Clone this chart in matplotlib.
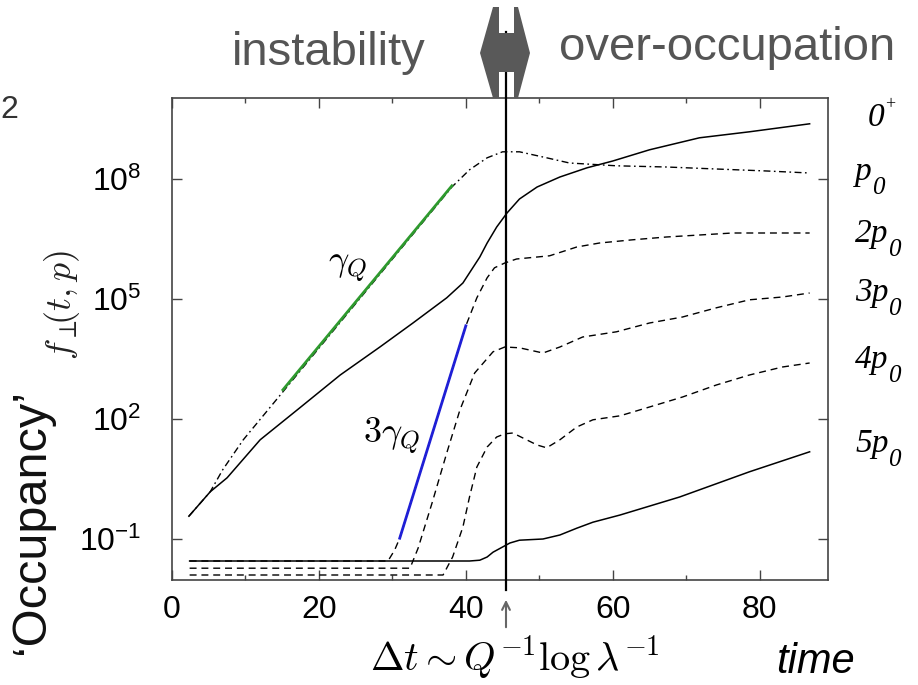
import numpy as np
import matplotlib
matplotlib.use('Agg')
import matplotlib.pyplot as plt
from matplotlib.patches import Polygon, FancyArrowPatch

plt.rcParams['font.family'] = ['Liberation Sans', 'DejaVu Sans']
plt.rcParams['mathtext.fontset'] = 'custom'
plt.rcParams['mathtext.rm'] = 'Liberation Sans'
plt.rcParams['mathtext.it'] = 'Liberation Sans:italic'
plt.rcParams['mathtext.bf'] = 'Liberation Sans:bold'

# temps (t) i log10 de l'ocupacio f per a cada mode
t_0plus = [2.3, 5.2, 7.5, 12.0, 17.4, 22.9, 28.3, 32.8, 37.4, 39.6, 41.9, 42.9,
           44.2, 45.6, 47.3, 49.7, 52.8, 56.5, 60.0, 65.0, 71.8, 78.6, 86.8]
logf_0plus = [-0.43, 0.18, 0.53, 1.48, 2.28, 3.1, 3.8, 4.4, 5.03, 5.4, 6.05, 6.4,
              6.8, 7.15, 7.5, 7.8, 8.05, 8.28, 8.45, 8.73, 9.03, 9.18, 9.38]

t_p0 = [2.3, 5.2, 6.9, 9.7, 15.1, 38.1, 40.5, 42.9, 45.0, 47.3, 51.0, 54.1,
        60.5, 67.3, 74.1, 81.0, 86.8]
logf_p0 = [-0.43, 0.18, 0.73, 1.48, 2.68, 7.8, 8.23, 8.53, 8.68, 8.68, 8.53, 8.4,
           8.33, 8.3, 8.25, 8.2, 8.15]

t_2p0 = [2.4, 29.4, 30.3, 31.0, 40.0, 41.5, 42.9, 43.9, 45.3, 46.9, 51.4, 55.1,
         58.2, 62.7, 67.3, 71.8, 76.3, 86.8]
logf_2p0 = [-1.55, -1.55, -1.28, -0.98, 4.33, 5.03, 5.53, 5.78, 5.9, 6.0, 6.08, 6.3,
            6.4, 6.48, 6.55, 6.6, 6.65, 6.65]

t_3p0 = [2.4, 32.4, 33.5, 35.4, 37.4, 39.2, 41.2, 43.7, 45.3, 47.3, 50.5, 52.8,
         55.9, 60.5, 65.0, 69.5, 74.1, 78.6, 83.1, 86.8]
logf_3p0 = [-1.73, -1.73, -1.23, -0.1, 1.15, 2.23, 3.15, 3.68, 3.8, 3.78, 3.65, 3.8,
            4.05, 4.18, 4.4, 4.55, 4.78, 4.98, 5.05, 5.15]

t_4p0 = [2.4, 36.9, 38.2, 39.6, 40.5, 41.5, 42.9, 44.2, 45.3, 46.4, 49.7, 51.0,
         52.8, 55.1, 57.3, 61.0, 65.0, 69.5, 74.1, 78.6, 83.1, 86.8]
logf_4p0 = [-1.9, -1.9, -1.45, -0.7, 0.05, 0.8, 1.3, 1.55, 1.63, 1.65, 1.35, 1.28,
            1.48, 1.8, 1.98, 2.08, 2.3, 2.55, 2.85, 3.1, 3.3, 3.4]

t_5p0 = [2.4, 40.5, 41.9, 42.9, 43.7, 45.0, 46.0, 47.3, 50.5, 52.8, 55.1, 57.3,
         61.0, 69.1, 78.6, 86.8]
logf_5p0 = [-1.55, -1.55, -1.53, -1.45, -1.33, -1.2, -1.1, -1.03, -1.0, -0.9, -0.73, -0.58,
            -0.4, 0.05, 0.68, 1.18]

# ajustos exponencials (gamma_Q i 3 gamma_Q)
t_fit1 = [15.1, 38.1]
logf_fit1 = [2.73, 7.83]
t_fit3 = [31.0, 40.0]
logf_fit3 = [-0.98, 4.33]

t_switch = 45.4

xticks = [0, 20, 40, 60, 80]
yticks = [1e-1, 1e2, 1e5, 1e8]
ytick_labels = ['$10^{-1}$', '$10^{2}$', '$10^{5}$', '$10^{8}$']

# etiquetes dels modes: (text principal, subindex, superindex)
mode_labels = [('0', None, '+'), ('p', '0', None), ('2p', '0', None),
               ('3p', '0', None), ('4p', '0', None), ('5p', '0', None)]

W, H = 918, 685


def px(x, y):
    # pixel de la imatge -> fraccio de figura
    return (x / W, 1 - y / H)


fig = plt.figure(figsize=(W / 100, H / 100), dpi=100)
ax = fig.add_axes([172 / W, 1 - 580 / H, (828 - 172) / W, (580 - 98) / H])
ax.set_yscale('log')

dash = (0, (5, 3.5))
ax.plot(t_0plus, 10 ** np.array(logf_0plus), color='black', lw=1.1)
ax.plot(t_p0, 10 ** np.array(logf_p0), color='black', lw=1.0, linestyle=(0, (5, 2.5, 1.2, 2.5)))
ax.plot(t_2p0, 10 ** np.array(logf_2p0), color='black', lw=1.0, linestyle=dash)
ax.plot(t_3p0, 10 ** np.array(logf_3p0), color='black', lw=1.0, linestyle=dash)
ax.plot(t_4p0, 10 ** np.array(logf_4p0), color='black', lw=1.0, linestyle=dash)
ax.plot(t_5p0, 10 ** np.array(logf_5p0), color='black', lw=1.1)

ax.plot(t_fit1, 10 ** np.array(logf_fit1), color='#2e9a2e', lw=2.0, zorder=4)
ax.plot(t_fit3, 10 ** np.array(logf_fit3), color='#1f1fd6', lw=2.0, zorder=4)

ax.axvline(t_switch, ymin=-0.021, ymax=1.137, color='black', lw=1.6, clip_on=False, zorder=5)

ax.set_xlim(0, 89.3)
ax.set_ylim(10 ** -2.025, 10 ** 10.025)
ax.set_xticks(xticks)
ax.set_xticks([10, 30, 50, 70], minor=True)
ax.set_yticks(yticks)
ax.set_yticklabels(ytick_labels)
ax.yaxis.set_minor_locator(matplotlib.ticker.NullLocator())
ax.tick_params(which='major', direction='in', length=7, width=1.0, top=True, right=True,
               labelsize=23, color='#444444')
ax.tick_params(which='minor', direction='in', length=3.5, width=1.0, top=True, right=True,
               color='#444444')
ax.tick_params(axis='x', pad=11)
ax.tick_params(axis='y', pad=22)
for s in ax.spines.values():
    s.set_color('#444444')
    s.set_linewidth(1.2)

# etiquetes dins del grafic
fig.text(*px(348, 266), r'$\gamma_Q$', fontsize=26, ha='center', va='center', math_fontfamily='cm')
fig.text(*px(392, 436), r'$3\gamma_Q$', fontsize=26, ha='center', va='center', math_fontfamily='cm')

# etiquetes dels modes a la dreta
serif = ['Liberation Serif', 'DejaVu Serif']
label_pos = [(868, 118), (855, 172), (855, 234), (855, 293), (855, 360), (855, 444)]
for (main, sub, sup), (lx, ly) in zip(mode_labels, label_pos):
    t = fig.text(*px(lx, ly), main, fontsize=24, family=serif, style='italic', ha='left', va='center')
    if sub:
        ax.annotate(sub, xy=(1.0, 0.32), xycoords=t, fontsize=18, family=serif, style='italic',
                    ha='left', va='top', annotation_clip=False)
    if sup:
        ax.annotate(sup, xy=(1.02, 0.95), xycoords=t, fontsize=13, family=serif,
                    ha='left', va='center', annotation_clip=False)

# eixos i titols
fig.text(*px(32, 522), '\u2018Occupancy\u2019', fontsize=35, rotation=90, ha='center', va='center', color='#111111')
fig.text(*px(62, 305), r'$f_{\perp}\!\!(t,p)$', fontsize=26, rotation=90, ha='center', va='center',
         math_fontfamily='cm', color='#222222')
fig.text(*px(9, 110), '2', fontsize=23, ha='center', va='center', color='#333333')
fig.text(*px(515, 658), r'$\Delta t\sim Q^{-1}\log\lambda^{-1}$', fontsize=29, ha='center', va='center',
         math_fontfamily='cm')
fig.text(*px(815, 662), 'time', fontsize=30, style='italic', ha='center', va='center')
fig.text(*px(329, 65), 'instability', fontsize=34, ha='center', va='baseline', color='#555555')
fig.text(*px(727, 60), 'over-occupation', fontsize=34, ha='center', va='baseline', color='#555555')

# doble fletxa grisa
arrow_pts = [(480, 53), (493, 7), (499, 7), (499, 33), (514, 33), (514, 7), (518, 7), (530, 53),
             (518, 98), (514, 98), (514, 72), (499, 72), (499, 98), (493, 98)]
fig.patches.append(Polygon([px(x, y) for x, y in arrow_pts], closed=True, transform=fig.transFigure,
                           facecolor='#595959', edgecolor='none', zorder=10))

# fletxa petita sota l'eix
fig.add_artist(FancyArrowPatch(px(506, 630), px(506, 597), transform=fig.transFigure,
                               arrowstyle='->', mutation_scale=14, color='#666666', lw=1.5))

fig.savefig('out.png', dpi=100)
